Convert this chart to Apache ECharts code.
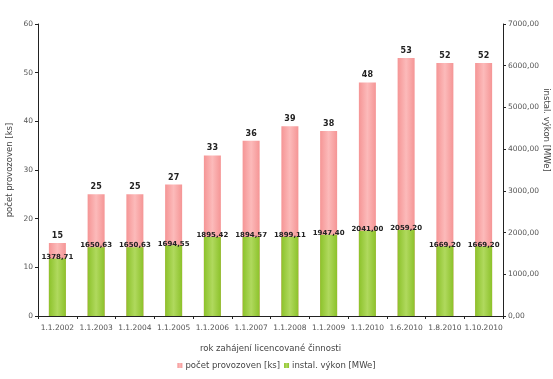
<!DOCTYPE html>
<html>
<head>
<meta charset="utf-8">
<script src="https://cdn.jsdelivr.net/npm/echarts@6/dist/echarts.min.js"></script>
<style>
  html, body { margin: 0; padding: 0; background: #fff; }
  #chart { width: 553px; height: 379px; }
</style>
</head>
<body>
<div id="chart"></div>
<script>
// Start dates of licensed operation
const categories = ['1.1.2002', '1.1.2003', '1.1.2004', '1.1.2005', '1.1.2006', '1.1.2007',
  '1.1.2008', '1.1.2009', '1.1.2010', '1.6.2010', '1.8.2010', '1.10.2010'];
// Number of plants [ks]
const plantCounts = [15, 25, 25, 27, 33, 36, 39, 38, 48, 53, 52, 52];
// Installed capacity [MWe]
const installedPower = [1378.71, 1650.63, 1650.63, 1694.55, 1895.42, 1894.57, 1899.11,
  1947.40, 2041.00, 2059.20, 1669.20, 1669.20];
// Tick values of the two value axes
const leftTicks = [0, 10, 20, 30, 40, 50, 60];
const rightTicks = [0, 1000, 2000, 3000, 4000, 5000, 6000, 7000];

const FONT = 'DejaVu Sans';
const fmtCz = v => v.toFixed(2).replace('.', ',');
const tickFont = { fontFamily: FONT, fontSize: 7.5, color: '#555' };
const nameFont = { fontFamily: FONT, fontSize: 8.5, color: '#444' };
const axisLine = { show: true, lineStyle: { color: '#222', width: 1 } };

function barGradient(edge, mid) {
  return new echarts.graphic.LinearGradient(0, 0, 1, 0, [
    { offset: 0, color: edge }, { offset: 0.5, color: mid }, { offset: 1, color: edge }
  ]);
}

const chart = echarts.init(document.getElementById('chart'));
chart.setOption({
  animation: false,
  grid: { left: 38, right: 50, top: 24, bottom: 63, containLabel: false, outerBoundsMode: 'none' },
  legend: {
    bottom: 4,
    left: 'center',
    itemWidth: 5,
    itemHeight: 5,
    itemGap: 4,
    icon: 'rect',
    textStyle: { fontFamily: FONT, fontSize: 8.5, color: '#444', padding: [0, 0, 0, -2] },
    data: ['počet provozoven [ks]', 'instal. výkon [MWe]']
  },
  xAxis: {
    type: 'category',
    data: categories,
    name: 'rok zahájení licencované činnosti',
    nameLocation: 'middle',
    nameGap: 28,
    nameMoveOverlap: false,
    nameTextStyle: nameFont,
    axisLine: axisLine,
    axisTick: { show: true, alignWithLabel: false, length: 3, lineStyle: { color: '#222' } },
    axisLabel: Object.assign({ margin: 8, interval: 0, hideOverlap: false }, tickFont)
  },
  yAxis: [
    {
      type: 'value',
      min: leftTicks[0],
      max: leftTicks[leftTicks.length - 1],
      interval: 10,
      name: 'počet provozoven [ks]',
      nameLocation: 'middle',
      nameGap: 24,
      nameRotate: 90,
      nameMoveOverlap: false,
      nameTextStyle: nameFont,
      axisLine: axisLine,
      axisTick: { show: true, length: 3, lineStyle: { color: '#222' } },
      axisLabel: Object.assign({ margin: 5 }, tickFont),
      splitLine: { show: false }
    },
    {
      type: 'value',
      min: rightTicks[0],
      max: rightTicks[rightTicks.length - 1],
      interval: 1000,
      name: 'instal. výkon [MWe]',
      nameLocation: 'middle',
      nameGap: 39,
      nameRotate: -90,
      nameMoveOverlap: false,
      nameTextStyle: Object.assign({ padding: [0, 80, 0, 0] }, nameFont),
      axisLine: axisLine,
      axisTick: { show: true, length: 3, lineStyle: { color: '#222' } },
      axisLabel: Object.assign({ margin: 5, formatter: v => fmtCz(v) }, tickFont),
      splitLine: { show: false }
    }
  ],
  series: [
    {
      name: 'počet provozoven [ks]',
      type: 'bar',
      yAxisIndex: 0,
      data: plantCounts,
      barWidth: 17,
      barGap: '-100%',
      itemStyle: { color: barGradient('#f59595', '#fcbaba') },
      label: {
        show: true, position: 'top', distance: 3,
        fontFamily: FONT, fontSize: 8, fontWeight: 'bold', color: '#222'
      },
      z: 2
    },
    {
      name: 'instal. výkon [MWe]',
      type: 'bar',
      yAxisIndex: 1,
      data: installedPower,
      barWidth: 17,
      barGap: '-100%',
      itemStyle: { color: barGradient('#8cc22a', '#b0d95e') },
      label: {
        show: true, position: 'top', distance: -2,
        formatter: p => fmtCz(p.value),
        fontFamily: FONT, fontSize: 7, fontWeight: 'bold', color: '#222'
      },
      z: 3
    }
  ]
});
</script>
</body>
</html>
